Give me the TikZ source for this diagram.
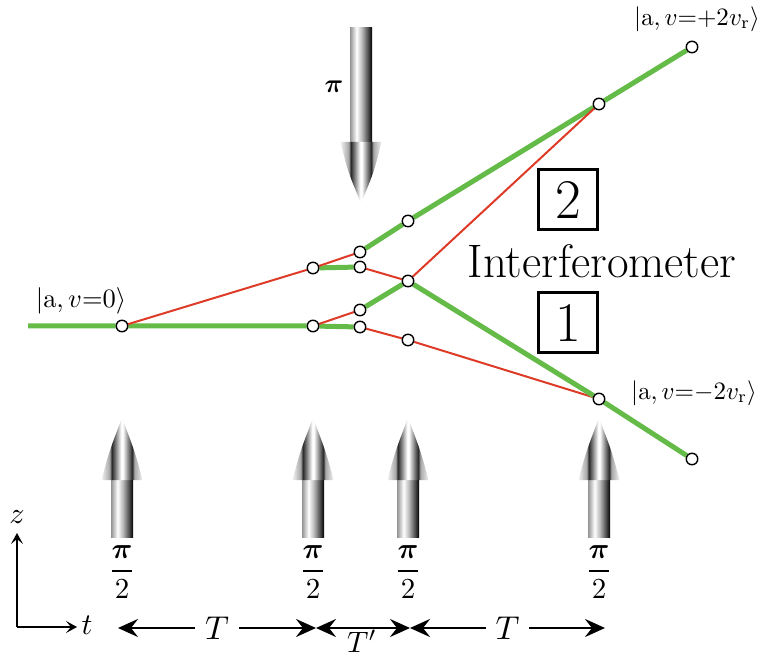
\documentclass[tikz,border=0pt]{standalone}
\usepackage{amsmath}
\usepackage{graphicx}
\usepackage{tikz}
\usetikzlibrary{arrows.meta,backgrounds}
\usepackage{xcolor}

\definecolor{armgreen}{RGB}{100,187,72}
\definecolor{armred}{RGB}{222,58,40}

\pgfdeclarehorizontalshading{beamshaft}{100bp}{color(0bp)=(gray!85); color(25bp)=(gray!85); color(40bp)=(white); color(52bp)=(gray!55); color(66bp)=(black!70); color(75bp)=(black); color(100bp)=(black)}
\pgfdeclarehorizontalshading{beamhead}{100bp}{color(0bp)=(white); color(25bp)=(white!90!gray); color(35bp)=(gray!70); color(37.5bp)=(black!85); color(49bp)=(white); color(51bp)=(white); color(62.5bp)=(black!85); color(65bp)=(gray!70); color(75bp)=(white!90!gray); color(100bp)=(white)}

\begin{document}
\begin{tikzpicture}[x=1pt, y=-1pt,
    dot/.style={circle, draw, fill=white, line width=1.4pt, minimum size=11.5pt, inner sep=0pt},
    fast/.style={armgreen, line width=5pt},
    slow/.style={armred, line width=2pt},
    lbl/.style={font=\fontsize{10}{12}\selectfont, inner sep=0pt},
    numbox/.style={draw, line width=3pt, minimum width=59pt, minimum height=60pt, inner sep=0pt, font=\fontsize{56}{60}\selectfont},
    dim/.style={line width=2.7pt, {Stealth[length=20pt,width=18pt,inset=7pt]}-{Stealth[length=20pt,width=18pt,inset=7pt]}},
    gap/.style={lbl, fill=white, inner xsep=10pt},
    axis/.style={line width=2.7pt, -{Stealth[length=11pt,width=12pt,inset=5pt]}}]
    \useasboundingbox (0,0) rectangle (761,660);

    \foreach \x/\n in {122/1, 313/2, 408/3, 599/4} {
        \shade[shading=beamshaft] (\x-11,480) rectangle (\x+11,537);
        \shade[shading=beamhead] (\x-20.5,480) .. controls (\x-13,452) .. (\x,418) .. controls (\x+13,452) .. (\x+20.5,480) -- cycle;
        \node[lbl] (half\n) at (\x,572) {\scalebox{2.9}{$\dfrac{\boldsymbol{\pi}}{2}$}};
    }
    \shade[shading=beamshaft] (350,28) rectangle (372,142);
    \shade[shading=beamhead] (340.5,142) .. controls (348,172) .. (361,203) .. controls (374,172) .. (381.5,142) -- cycle;
    \node[lbl] (full) at (334,87) {\scalebox{2.6}{$\boldsymbol{\pi}$}};

    \coordinate (src) at (28,326);
    \node[dot] (p1) at (122,326) {};
    \node[dot] (u1) at (313,268) {};
    \node[dot] (l1) at (313,326) {};
    \node[dot] (u2) at (360,252) {};
    \node[dot] (u3) at (360,267) {};
    \node[dot] (l2) at (360,310) {};
    \node[dot] (l3) at (360,327) {};
    \node[dot] (u4) at (408,221) {};
    \node[dot] (mix) at (408,281) {};
    \node[dot] (l4) at (408,340) {};
    \node[dot] (up) at (599,104) {};
    \node[dot] (dn) at (599,399) {};
    \node[dot] (upend) at (692,47) {};
    \node[dot] (dnend) at (692,459) {};

    \begin{scope}[on background layer]
        \draw[fast] (src) -- (p1) -- (l1) -- (l3);
        \draw[slow] (p1) -- (u1);
        \draw[fast] (u1) -- (u3);
        \draw[slow] (u1) -- (u2);
        \draw[fast] (u2) -- (u4) -- (up) -- (upend);
        \draw[slow] (u3) -- (mix);
        \draw[slow] (l1) -- (l2);
        \draw[fast] (l2) -- (mix);
        \draw[slow] (l3) -- (l4) -- (dn);
        \draw[slow] (mix) -- (up);
        \draw[fast] (mix) -- (dn) -- (dnend);
    \end{scope}

    \node[lbl] (ket0) at (81,301) {\scalebox{2.65}{$|\mathrm{a},v{=}0\rangle$}};
    \node[lbl] (ketup) at (697,19) {\scalebox{2.5}{$|\mathrm{a},v{=}{+}2v_{\mathrm{r}}\rangle$}};
    \node[lbl] (ketdn) at (694,393) {\scalebox{2.5}{$|\mathrm{a},v{=}{-}2v_{\mathrm{r}}\rangle$}};

    \node[numbox] (box2) at (568,200) {2};
    \node[font=\fontsize{47}{52}\selectfont, inner sep=0pt] (ifo) at (602,261) {Interferometer};
    \node[numbox] (box1) at (568,323) {1};

    \coordinate (orig) at (17,627);
    \coordinate (ztip) at (17,533);
    \coordinate (ttip) at (77,627);
    \draw[axis] (orig) -- (ztip);
    \draw[axis] (orig) -- (ttip);
    \node[lbl] (zlab) at (17,517) {\scalebox{3}{$z$}};
    \node[lbl] (tlab) at (87,625) {\scalebox{3}{$t$}};

    \coordinate (d1) at (118,628);
    \coordinate (d2) at (316,628);
    \coordinate (d3) at (410,628);
    \coordinate (d4) at (605,628);
    \draw[dim] (d1) -- node[gap] (tfirst) {\scalebox{3.3}{$T$}} (d2);
    \draw[dim] (d2) -- (d3);
    \node[lbl, anchor=north] (tmid) at (362,630) {\scalebox{2.95}{$T'$}};
    \draw[dim] (d3) -- node[gap] (tlast) {\scalebox{3.3}{$T$}} (d4);
\end{tikzpicture}
\end{document}
